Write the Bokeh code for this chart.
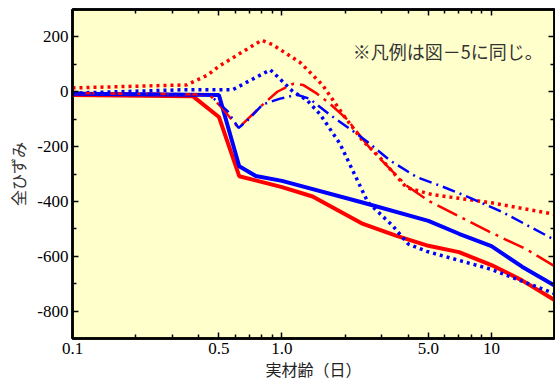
from bokeh.plotting import figure
from bokeh.models import Range1d, FixedTicker, LinearAxis, LogAxis, Label, CustomJSTickFormatter
from bokeh.embed import file_html
from bokeh.resources import INLINE

# ---- data ----
age_red_solid = [0.1, 0.375, 0.5, 0.625, 1.0, 1.4, 2.4, 3.5, 5.0, 7.0, 10.0, 14.0, 20.0]
val_red_solid = [-12, -16, -92, -308, -348, -382, -480, -525, -562, -585, -632, -688, -760]

age_blue_solid = [0.1, 0.5, 0.625, 0.75, 1.0, 2.4, 5.0, 7.0, 10.0, 14.0, 20.0]
val_blue_solid = [-7, -12, -272, -307, -325, -403, -471, -518, -563, -638, -707]

age_red_dot = [0.1, 0.35, 0.44, 0.5, 0.8, 0.9, 1.22, 1.56, 1.95, 2.43, 2.93, 3.94, 5.2, 10.0, 20.0]
val_red_dot = [14, 25, 60, 93, 188, 172, 107, 25, -82, -179, -239, -350, -375, -405, -447]

age_blue_dot = [0.1, 0.33, 0.58, 0.88, 0.98, 1.13, 1.31, 1.52, 1.89, 2.57, 3.38, 4.0, 4.9, 10.0, 20.0]
val_blue_dot = [-5, 7, 7, 80, 46, 0, -29, -82, -189, -403, -489, -555, -582, -648, -736]

age_red_dd = [0.1, 0.45, 0.52, 0.62, 0.79, 0.95, 1.13, 1.26, 1.47, 1.69, 2.04, 2.62, 2.93, 3.94, 5.07, 9.8, 14.7, 20.0]
val_red_dd = [-5, -10, -61, -132, -54, 0, 29, 25, -7, -43, -100, -204, -243, -343, -400, -511, -575, -636]

age_blue_dd = [0.1, 0.45, 0.55, 0.62, 0.68, 0.81, 0.98, 1.18, 1.35, 1.73, 2.18, 2.62, 3.27, 4.39, 5.84, 7.86, 11.3, 20.0]
val_blue_dd = [-5, -10, -71, -132, -107, -46, -25, -11, -25, -89, -143, -189, -250, -311, -346, -386, -439, -540]

x_major = [0.1, 0.5, 1.0, 5.0, 10.0]
x_major_labels = ["0.1", "0.5", "1.0", "5.0", "10"]
x_minor = [0.2, 0.3, 0.4, 0.6, 0.7, 0.8, 0.9, 2, 3, 4, 6, 7, 8, 9, 20]
y_major = [-800, -600, -400, -200, 0, 200]
y_major_labels = ["-800", "-600", "-400", "-200", "0", "200"]
y_minor = [-900, -700, -500, -300, -100, 100, 300]

note_text = "※凡例は図－5に同じ。"
x_title = "実材齢（日）"
y_title = "全ひずみ"

RED = "#ff0000"
BLUE = "#0000ff"
SERIF = "Liberation Serif"
JP = "Noto Sans CJK JP"

p = figure(width=555, height=383, x_axis_type="log",
           x_range=Range1d(0.1, 20), y_range=Range1d(-900, 300),
           output_backend="svg", toolbar_location=None,
           min_border_left=72, min_border_right=1, min_border_top=9, min_border_bottom=42)
p.background_fill_color = "#ffffcc"
p.border_fill_color = "white"
p.outline_line_color = "black"
p.outline_line_width = 2.5
p.xgrid.visible = False
p.ygrid.visible = False

# lines
p.line(age_red_solid, val_red_solid, color=RED, line_width=4)
p.line(age_blue_solid, val_blue_solid, color=BLUE, line_width=4)
p.line(age_red_dot, val_red_dot, color=RED, line_width=3.5, line_dash="3 4")
p.line(age_blue_dot, val_blue_dot, color=BLUE, line_width=3.5, line_dash="3 4")
p.line(age_red_dd, val_red_dd, color=RED, line_width=2.5, line_dash="22 6 3 6")
p.line(age_blue_dd, val_blue_dd, color=BLUE, line_width=2.5, line_dash="13 5 2 5")


def style(ax, labels=True):
    ax.axis_line_width = 2.5
    ax.axis_line_color = "black"
    ax.major_tick_in = 6
    ax.major_tick_out = 0
    ax.minor_tick_in = 4
    ax.minor_tick_out = 0
    ax.major_tick_line_width = 1.5
    ax.minor_tick_line_width = 1.5
    ax.major_tick_line_color = "black"
    ax.minor_tick_line_color = "black"
    if labels:
        ax.major_label_text_font = SERIF
        ax.major_label_text_font_size = "17px"
        ax.major_label_text_color = "black"
    else:
        ax.formatter = CustomJSTickFormatter(code="return ''")
        ax.major_label_standoff = 0


xa = p.xaxis[0]
xa.ticker = FixedTicker(ticks=x_major, minor_ticks=x_minor)
xa.major_label_overrides = {v: s for v, s in zip(x_major, x_major_labels)}
style(xa)
xa.major_label_standoff = 4
xa.axis_label = x_title
xa.axis_label_text_font = JP
xa.axis_label_text_font_size = "16px"
xa.axis_label_text_font_style = "normal"
xa.axis_label_standoff = 0
xa.axis_label_text_color = "#222222"

ya = p.yaxis[0]
ya.ticker = FixedTicker(ticks=y_major, minor_ticks=y_minor)
ya.major_label_overrides = {v: s for v, s in zip(y_major, y_major_labels)}
style(ya)
ya.major_label_standoff = 4
ya.axis_label = y_title
ya.axis_label_text_font = JP
ya.axis_label_text_font_size = "16px"
ya.axis_label_text_font_style = "normal"
ya.axis_label_standoff = 4
ya.axis_label_text_color = "#333333"

top = LogAxis(ticker=FixedTicker(ticks=x_major, minor_ticks=x_minor))
style(top, labels=False)
p.add_layout(top, "above")
right = LinearAxis(ticker=FixedTicker(ticks=y_major, minor_ticks=y_minor))
style(right, labels=False)
p.add_layout(right, "right")

p.add_layout(Label(x=2.18, y=150, text=note_text, text_font=JP,
                   text_font_size="18px", text_baseline="middle",
                   text_color="#333333"))

open("out.html", "w").write(file_html(p, INLINE))
